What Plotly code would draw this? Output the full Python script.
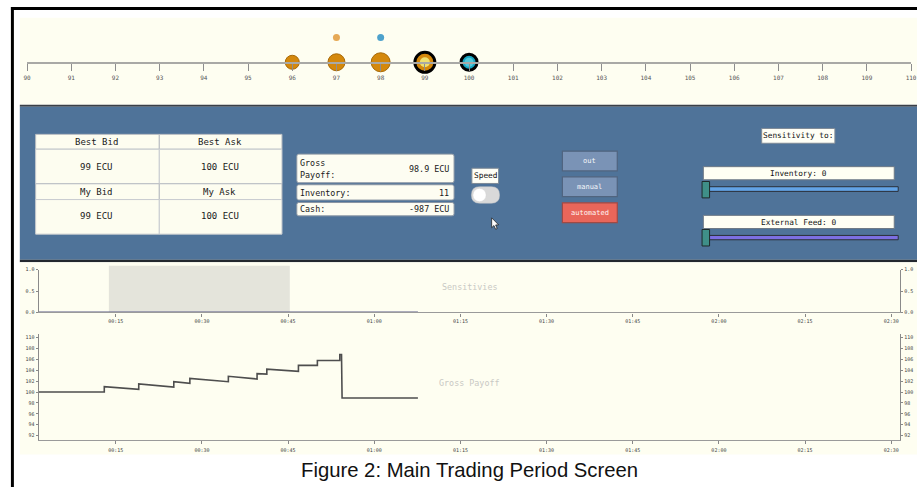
import plotly.graph_objects as go

W, H = 923, 490

# ---------------- data ----------------
price_ticks = list(range(90, 111))
book_prices = [96, 97, 98]
my_bid_price = [99]
my_ask_price = [100]
other_quotes_prices = [97, 98]

best_bid, best_ask = "99 ECU", "100 ECU"
my_bid, my_ask = "99 ECU", "100 ECU"
gross_payoff_text = "98.9 ECU"
inventory_value = "11"
cash_text = "-987 ECU"

# time in seconds
tick_secs = [15, 30, 45, 60, 75, 90, 105, 120, 135, 150]
tick_text = ["00:15", "00:30", "00:45", "01:00", "01:15", "01:30",
             "01:45", "02:00", "02:15", "02:30"]

payoff_time = [1.6, 13.0, 13.0, 19.0, 19.0, 25.1, 25.1, 27.9, 27.9, 34.6,
               34.6, 39.6, 39.6, 41.3, 41.3, 46.8, 46.8, 50.1, 50.1, 54.0,
               54.0, 54.3, 54.4, 67.6]
payoff_value = [100.0, 100.0, 101.0, 100.5, 101.5, 100.9, 101.9, 101.6, 102.5, 101.9,
                102.9, 102.4, 103.4, 103.3, 104.2, 103.8, 104.9, 104.9, 105.8, 105.8,
                106.9, 106.9, 98.9, 98.9]
payoff_ticks = [92, 94, 96, 98, 100, 102, 104, 106, 108, 110]

sens_time = [1.6, 67.6]
sens_value = [0.0, 0.0]
sens_band = [13.8, 45.3]
sens_ticks = [0.0, 0.5, 1.0]
sens_ticktext = ["0.0", "0.5", "1.0"]

# ---------------- helpers ----------------
def X(px):
    return px / W

def Y(py):
    return 1 - py / H

MONO = "DejaVu Sans Mono"
shapes = []
annotations = []


def rect(x0, y0, x1, y1, fill, line="rgba(0,0,0,0)", lw=0, layer="below"):
    shapes.append(dict(type="rect", xref="paper", yref="paper",
                       x0=X(x0), x1=X(x1), y0=Y(y1), y1=Y(y0),
                       fillcolor=fill, line=dict(color=line, width=lw), layer=layer))


def rrect(x0, y0, x1, y1, r, fill, line="rgba(0,0,0,0)", lw=0, layer="below"):
    def p(a, b):
        return f"{X(a):.5f},{Y(b):.5f}"
    path = (f"M {p(x0 + r, y0)} L {p(x1 - r, y0)} Q {p(x1, y0)} {p(x1, y0 + r)} "
            f"L {p(x1, y1 - r)} Q {p(x1, y1)} {p(x1 - r, y1)} "
            f"L {p(x0 + r, y1)} Q {p(x0, y1)} {p(x0, y1 - r)} "
            f"L {p(x0, y0 + r)} Q {p(x0, y0)} {p(x0 + r, y0)} Z")
    shapes.append(dict(type="path", xref="paper", yref="paper", path=path,
                       fillcolor=fill, line=dict(color=line, width=lw), layer=layer))


def text(px, py, s, size=8.5, color="#1a1a1a", anchor="center", family=MONO):
    annotations.append(dict(x=X(px), y=Y(py), xref="paper", yref="paper", text=s,
                            showarrow=False, xanchor=anchor, yanchor="middle",
                            font=dict(family=family, size=size, color=color)))


CREAM = "#FEFEF1"

# ---------------- panels ----------------
rect(7, 4, 923, 7, "#000000")
rect(7, 4, 10, 490, "#000000")
rect(16, 15, 923, 103, CREAM)
rect(16, 103, 923, 105, "#3a3f47")
rect(16, 105, 923, 260, "#4F7399")
rect(16, 260, 923, 262.5, "#23282e")
rect(16, 262.5, 923, 457, CREAM)

# order book table
cell_fill = "#FDFDF0"
for (a, b) in [(32, 157), (157, 281)]:
    rect(a, 133, b, 148, cell_fill, "#B9BDC2", 1)
    rect(a, 148, b, 183, cell_fill, "#C9CCD0", 1)
    rect(a, 183, b, 199, cell_fill, "#B9BDC2", 1)
    rect(a, 199, b, 234, cell_fill, "#C9CCD0", 1)
text(94, 141, "Best Bid", 9)
text(218, 141, "Best Ask", 9)
text(94, 166.5, best_bid, 9)
text(218, 166.5, best_ask, 9)
text(94, 191.5, "My Bid", 9)
text(218, 191.5, "My Ask", 9)
text(94, 216, my_bid, 9)
text(218, 216, my_ask, 9)

# info boxes
rrect(296, 153, 455, 182, 2, "#FDFDF2", "#8a95a3", 1)
rrect(296, 184, 455, 199.5, 2, "#FDFDF2", "#8a95a3", 1)
rrect(296, 202, 455, 215.5, 2, "#FDFDF2", "#8a95a3", 1)
text(297.5, 161.5, "Gross", 8.4, anchor="left")
text(297.5, 174.5, "Payoff:", 8.4, anchor="left")
text(452, 168, gross_payoff_text, 8.4, anchor="right")
text(297.5, 192, "Inventory:", 8.4, anchor="left")
text(452, 192, inventory_value, 8.4, anchor="right")
text(297.5, 209, "Cash:", 8.4, anchor="left")
text(452, 209, cash_text, 8.4, anchor="right")

# speed toggle
rect(473, 167.3, 500, 182.7, "#FFFFF6", "#7f8a96", 1)
text(486.5, 175, "Speed", 7.8, color="#111")
rrect(472.5, 186, 501, 202.7, 8.3, "#D9D9D9", "#C8C8C8", 0.5)
shapes.append(dict(type="circle", xref="paper", yref="paper",
                   x0=X(474), x1=X(487.5), y0=Y(201.2), y1=Y(187.6),
                   fillcolor="#FFFFFF", line=dict(color="#cfcfcf", width=0.5), layer="below"))
# mouse cursor
cur = [(493, 217.5), (493, 227.5), (495.3, 225.3), (497, 229), (498.6, 228.3),
       (497, 224.7), (500, 224.6)]
path = "M " + " L ".join(f"{X(a):.5f},{Y(b):.5f}" for a, b in cur) + " Z"
shapes.append(dict(type="path", xref="paper", yref="paper", path=path,
                   fillcolor="#FFFFFF", line=dict(color="#111", width=0.7), layer="below"))

# mode buttons
rect(564.5, 150, 620, 170, "#7A93B6", "#50647F", 1.2)
rect(564.5, 176, 620, 196, "#7A93B6", "#50647F", 1.2)
rect(564.5, 202.3, 620, 222.3, "#E9665A", "#9E4A45", 1.2)
text(592, 160, "out", 7, color="#F4F6FA")
text(592, 186, "manual", 7, color="#F4F6FA")
text(592, 212.3, "automated", 7, color="#FFF4F2")

# sensitivity controls
rect(766, 127, 840, 142, "#FFFFF6", "#7f8a96", 1)
text(803, 134.5, "Sensitivity to:", 7.8, color="#111")
rect(707, 165.7, 900, 179, "#FFFFF4", "#6f7a86", 1)
text(803.5, 172.5, "Inventory: 0", 7.8, color="#111")
rect(707, 186, 904, 190.7, "#62A3E6", "#2a2f38", 1)
rect(705.7, 180.7, 713.3, 197.3, "#3F8F88", "#1e2a2a", 1)
rect(707, 215, 900, 228.3, "#FFFFF4", "#6f7a86", 1)
text(803.5, 221.8, "External Feed: 0", 7.8, color="#111")
rect(707, 235.3, 904, 239.7, "#7C6FE2", "#2a2f38", 1)
rect(705.7, 229.3, 713.3, 246, "#3F8F88", "#1e2a2a", 1)

# sensitivity band (grey highlight)
shapes.append(dict(type="rect", xref="x2", yref="y2 domain", x0=sens_band[0], x1=sens_band[1],
                   y0=0, y1=1.09, fillcolor="#E4E4DB", line=dict(width=0), layer="below"))

# chart watermark titles
text(470.5, 288, "Sensitivies", 8.4, color="#C9C9C4")
text(470.5, 385, "Gross Payoff", 8.4, color="#C9C9C4")

# caption
text(471, 472.5, "Figure 2: Main Trading Period Screen", 20.3, color="#111",
     family="Liberation Sans, Arial")

# ---------------- traces ----------------
fig = go.Figure()

ORANGE = "#D4880C"
fig.add_trace(go.Scatter(x=book_prices, y=[0] * len(book_prices), mode="markers",
                         marker=dict(size=[14, 17, 19], color=ORANGE, opacity=1,
                                     line=dict(color="#A86A08", width=1)),
                         cliponaxis=False, hoverinfo="skip", xaxis="x", yaxis="y"))
fig.add_trace(go.Scatter(x=my_bid_price, y=[0], mode="markers",
                         marker=dict(size=20, color=ORANGE, opacity=1,
                                     line=dict(color="#000", width=3)),
                         cliponaxis=False, hoverinfo="skip", xaxis="x", yaxis="y"))
fig.add_trace(go.Scatter(x=my_bid_price, y=[0], mode="markers",
                         marker=dict(size=10, color="#EFE070", opacity=1, line=dict(width=0)),
                         cliponaxis=False, hoverinfo="skip", xaxis="x", yaxis="y"))
fig.add_trace(go.Scatter(x=my_ask_price, y=[0], mode="markers",
                         marker=dict(size=16, color="#1AA7C2", opacity=1,
                                     line=dict(color="#000", width=3)),
                         cliponaxis=False, hoverinfo="skip", xaxis="x", yaxis="y"))
fig.add_trace(go.Scatter(x=my_ask_price, y=[0], mode="markers",
                         marker=dict(size=9, color="#52C9DA", opacity=1, line=dict(width=0)),
                         cliponaxis=False, hoverinfo="skip", xaxis="x", yaxis="y"))
fig.add_trace(go.Scatter(x=other_quotes_prices, y=[0.595] * len(other_quotes_prices),
                         mode="markers",
                         marker=dict(size=7, color=["#E6A955", "#4EA2CC"], opacity=1,
                                     line=dict(width=0)),
                         cliponaxis=False, hoverinfo="skip", xaxis="x", yaxis="y"))

fig.add_trace(go.Scatter(x=sens_time, y=sens_value, mode="lines",
                         line=dict(color="#5A5B86", width=2),
                         cliponaxis=False, hoverinfo="skip", xaxis="x2", yaxis="y2"))
fig.add_trace(go.Scatter(x=sens_time, y=sens_value, mode="lines",
                         line=dict(color="rgba(0,0,0,0)", width=0),
                         hoverinfo="skip", xaxis="x2", yaxis="y4"))
fig.add_trace(go.Scatter(x=payoff_time, y=payoff_value, mode="lines",
                         line=dict(color="#4E4E4E", width=1.6),
                         cliponaxis=False, hoverinfo="skip", xaxis="x3", yaxis="y3"))
fig.add_trace(go.Scatter(x=payoff_time, y=payoff_value, mode="lines",
                         line=dict(color="rgba(0,0,0,0)", width=0),
                         hoverinfo="skip", xaxis="x3", yaxis="y5"))

# ---------------- axes ----------------
tick_font = dict(family=MONO, size=5, color="#444")
xr = [1.57, 151.56]
common_x = dict(range=xr, showline=True, linecolor="#9A9A9A", linewidth=1.2,
                ticks="outside", ticklen=3, tickcolor="#888", tickwidth=1,
                tickvals=tick_secs, ticktext=tick_text, tickfont=tick_font,
                showgrid=False, zeroline=False, fixedrange=True)
common_y = dict(showline=True, linecolor="#8A8A8A", linewidth=1, ticks="outside",
                ticklen=2, tickcolor="#888", tickfont=tick_font, showgrid=False,
                zeroline=False, fixedrange=True)

fig.update_layout(
    width=W, height=H,
    margin=dict(l=0, r=0, t=0, b=0),
    paper_bgcolor="#FFFFFF", plot_bgcolor="rgba(0,0,0,0)",
    showlegend=False,
    shapes=shapes, annotations=annotations,
    xaxis=dict(domain=[X(23.3), X(917)], range=[90, 110], anchor="y",
               showline=True, linecolor="#A9A9A6", linewidth=2,
               ticks="outside", ticklen=7, tickcolor="#8E8E8E", tickwidth=1,
               tickvals=price_ticks, tickfont=dict(family=MONO, size=6, color="#555"),
               ticklabelstandoff=2,
               showgrid=False, zeroline=False, fixedrange=True),
    yaxis=dict(domain=[Y(60), Y(18)], range=[0, 1], anchor="x", visible=False,
               fixedrange=True),
    xaxis2=dict(domain=[X(35), X(906)], anchor="y2", **common_x),
    yaxis2=dict(domain=[Y(313.3), Y(270)], range=[0, 1], anchor="x2",
                tickvals=sens_ticks, ticktext=sens_ticktext, **common_y),
    yaxis4=dict(overlaying="y2", side="right", range=[0, 1], anchor="x2",
                tickvals=sens_ticks, ticktext=sens_ticktext, **common_y),
    xaxis3=dict(domain=[X(35), X(906)], anchor="y3", ticklabelstandoff=2, **common_x),
    yaxis3=dict(domain=[Y(442.3), Y(335)], range=[91.2, 110.7], anchor="x3",
                tickvals=payoff_ticks, **common_y),
    yaxis5=dict(overlaying="y3", side="right", range=[91.2, 110.7], anchor="x3",
                tickvals=payoff_ticks, **common_y),
)

fig.write_html("out.html", config={"displayModeBar": False},
               post_script="document.body.style.margin='0';document.body.style.overflow='hidden';")
